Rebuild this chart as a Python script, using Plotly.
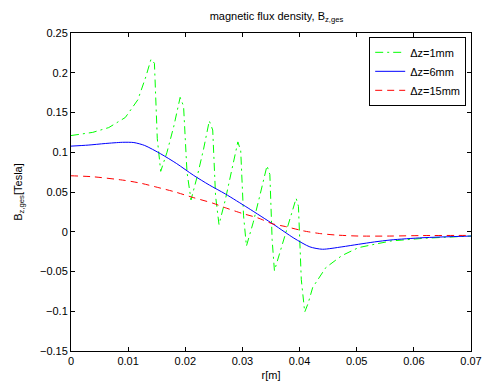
import plotly.graph_objects as go

# Δz = 1 mm (green, dash-dot)
r_1mm = [0.0000, 0.0038, 0.0066, 0.0095, 0.0117, 0.0131, 0.0140, 0.0146, 0.0151, 0.0157,
         0.0168, 0.0180, 0.0191, 0.0197, 0.0203, 0.0210,
         0.0221, 0.0232, 0.0242, 0.0248, 0.0253, 0.0259,
         0.0270, 0.0281, 0.0292, 0.0297, 0.0302, 0.0307,
         0.0319, 0.0331, 0.0343, 0.0348, 0.0352, 0.0356,
         0.0368, 0.0381, 0.0394, 0.0398, 0.0403, 0.0409,
         0.0415, 0.0423, 0.0446, 0.0474, 0.0503, 0.0531, 0.0560, 0.0616, 0.0700]
b_1mm = [0.121, 0.125, 0.131, 0.1437, 0.166, 0.195, 0.217, 0.212, 0.117, 0.076,
         0.100, 0.133, 0.169, 0.158, 0.075, 0.040,
         0.070, 0.104, 0.1395, 0.128, 0.045, 0.009,
         0.040, 0.076, 0.113, 0.102, 0.020, -0.018,
         0.012, 0.047, 0.083, 0.072, -0.010, -0.049,
         -0.020, 0.011, 0.042, 0.032, -0.060, -0.101,
         -0.090, -0.070, -0.045, -0.030, -0.020, -0.0158, -0.0116, -0.0083, -0.0054]

# Δz = 6 mm (blue, solid)
r_6mm = [0.0, 0.003, 0.006, 0.009, 0.011, 0.0129, 0.0157, 0.0185, 0.0214, 0.0242, 0.027,
         0.031, 0.0355, 0.039, 0.0418, 0.044, 0.0474, 0.0503, 0.0531, 0.056, 0.0616, 0.070]
b_6mm = [0.1077, 0.109, 0.111, 0.1125, 0.1122, 0.1085, 0.098, 0.0857, 0.0712, 0.0588, 0.0476,
         0.0298, 0.009, -0.008, -0.019, -0.022, -0.019, -0.0158, -0.0128, -0.0103, -0.0075, -0.0054]

# Δz = 15 mm (red, dashed)
r_15mm = [0.0, 0.0038, 0.0095, 0.0123, 0.0151, 0.018, 0.0214, 0.0248, 0.0268, 0.0299, 0.0327,
          0.0353, 0.0375, 0.0406, 0.0435, 0.0463, 0.0503, 0.056, 0.0616, 0.070]
b_15mm = [0.0704, 0.0692, 0.0645, 0.0609, 0.0559, 0.0505, 0.0430, 0.036, 0.0307, 0.0232, 0.0174,
          0.0099, 0.0066, 0.0012, -0.0022, -0.0041, -0.0054, -0.0054, -0.0048, -0.0046]

x_ticks = [0, 0.01, 0.02, 0.03, 0.04, 0.05, 0.06, 0.07]
y_ticks = [-0.15, -0.1, -0.05, 0, 0.05, 0.1, 0.15, 0.2, 0.25]

FONT = "Liberation Sans, Arial, Helvetica, sans-serif"

fig = go.Figure()
fig.add_trace(go.Scatter(x=r_1mm, y=b_1mm, mode="lines", name="Δz=1mm",
                         line=dict(color="#00ff00", width=1, dash="8px,4px,2px,4px")))
fig.add_trace(go.Scatter(x=r_6mm, y=b_6mm, mode="lines", name="Δz=6mm",
                         line=dict(color="#0000ff", width=1, shape="spline", smoothing=0.7)))
fig.add_trace(go.Scatter(x=r_15mm, y=b_15mm, mode="lines", name="Δz=15mm",
                         line=dict(color="#ff0000", width=1, dash="7px,5px",
                                   shape="spline", smoothing=0.7)))

axis_common = dict(showline=True, linecolor="black", linewidth=1, mirror="ticks",
                   ticks="inside", ticklen=4, tickcolor="black", showgrid=False,
                   zeroline=False, tickfont=dict(family=FONT, size=11, color="black"))

fig.update_layout(
    width=493, height=391,
    margin=dict(l=71, r=11, t=33, b=36),
    paper_bgcolor="white", plot_bgcolor="white",
    font=dict(family=FONT, size=11, color="black"),
    title=dict(text="magnetic flux density, B<sub>z,ges</sub>", x=(71 + 482) / 2 / 493,
               xanchor="center", y=1 - 16 / 391, yanchor="middle",
               font=dict(family=FONT, size=11, color="black")),
    xaxis=dict(range=[0, 0.07], tickvals=x_ticks,
               ticktext=[("%g" % v) for v in x_ticks],
               title=dict(text="r[m]", standoff=5, font=dict(family=FONT, size=11)),
               **axis_common),
    yaxis=dict(range=[-0.15, 0.25], tickvals=y_ticks,
               ticktext=[("%g" % v).replace("-", "\u2212") for v in y_ticks],
               title=dict(text="B<sub>z,ges</sub>[Tesla]", standoff=15, font=dict(family=FONT, size=11)),
               **axis_common),
    legend=dict(x=0.988, y=0.988, xanchor="right", yanchor="top",
                bgcolor="white", bordercolor="black", borderwidth=1,
                font=dict(family=FONT, size=11, color="black"),
                tracegroupgap=0),
    showlegend=True,
)

fig.write_html("out.html")
